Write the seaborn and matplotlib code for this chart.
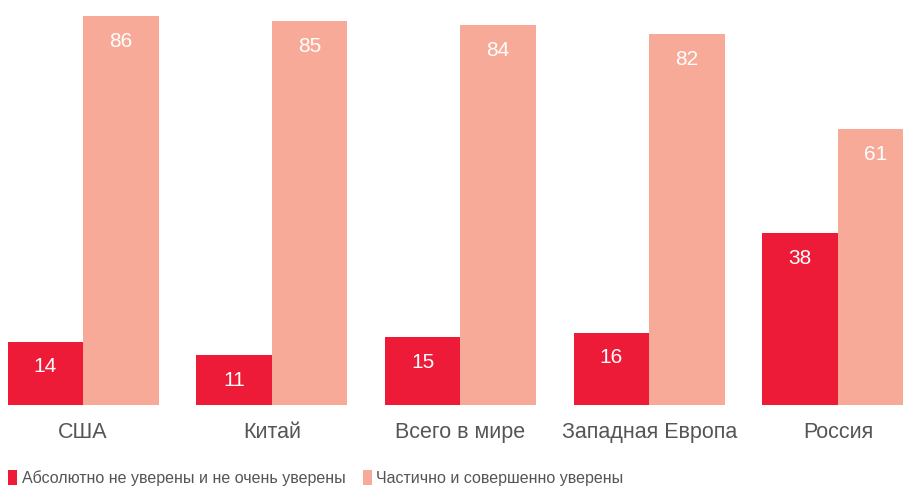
import matplotlib
matplotlib.use("Agg")

import pandas as pd
import matplotlib.pyplot as plt
from matplotlib.patches import Patch
import seaborn as sns

# data
regions = ["США", "Китай", "Всего в мире", "Западная Европа", "Россия"]
not_sure = [14, 11, 15, 16, 38]
sure = [86, 85, 84, 82, 61]
series = ["Абсолютно не уверены и не очень уверены", "Частично и совершенно уверены"]
colors = ["#ED1B38", "#F7AA98"]

df = pd.DataFrame({
    "region": regions * 2,
    "value": not_sure + sure,
    "series": [series[0]] * len(regions) + [series[1]] * len(regions),
})

sns.set_style("white")
plt.rcParams["font.family"] = ["Liberation Sans", "DejaVu Sans"]

fig = plt.figure(figsize=(9.04, 4.90), dpi=100)
ax = fig.add_axes([0, 85 / 490, 1, 405 / 490])

sns.barplot(data=df, x="region", y="value", hue="series", palette=colors,
            width=0.8, saturation=1, legend=False, linewidth=0, ax=ax)

for cont in ax.containers:
    ax.bar_label(cont, padding=-25, color="white", fontsize=15)

ax.set_xlim(-0.44, 4.35)
ax.set_ylim(0, 89.6)
ax.set_xlabel("")
ax.set_ylabel("")
ax.set_yticks([])
ax.tick_params(axis="x", length=0, pad=12, labelsize=15.5, labelcolor="#555555")
sns.despine(ax=ax, left=True, bottom=True)

handles = [Patch(facecolor=c, edgecolor="none") for c in colors]
fig.legend(handles, series, loc="center left",
           bbox_to_anchor=(8 / 904, 12 / 490),
           ncol=2, frameon=False, fontsize=11.5, labelcolor="#555555",
           handlelength=0.55, handleheight=1.05, handletextpad=0.3,
           columnspacing=1.1, borderpad=0, borderaxespad=0)

fig.savefig("out.png", dpi=100)
